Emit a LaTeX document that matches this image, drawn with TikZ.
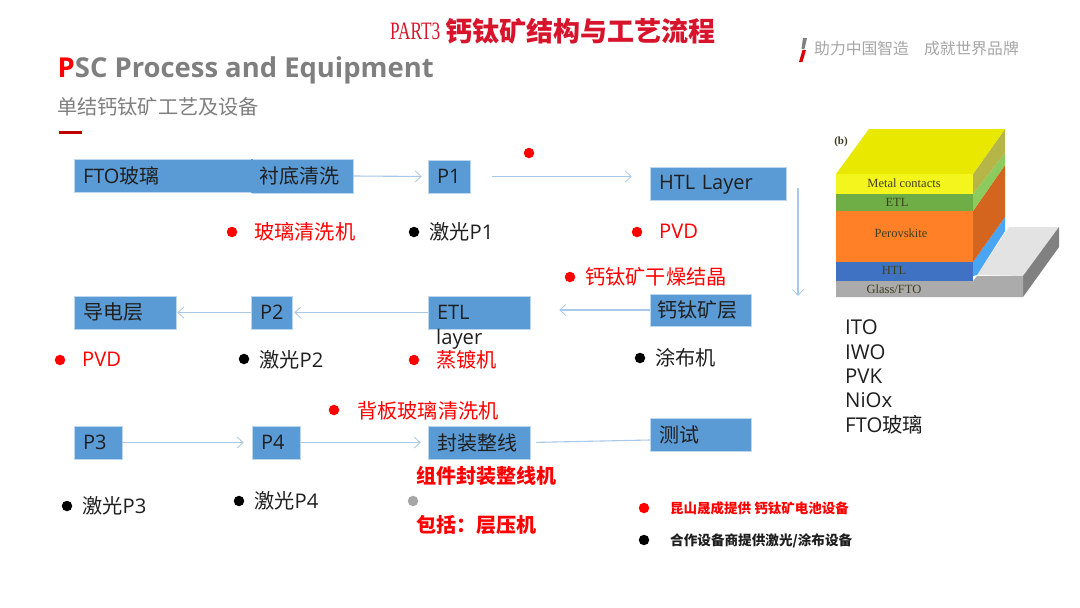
\documentclass[tikz,border=0pt]{standalone}
\usepackage{fontspec}
\usetikzlibrary{arrows.meta}
\setmainfont{Open Sans}
\newfontfamily\cjk{Noto Sans CJK SC}
\newfontfamily\serifx{Liberation Serif}
\newcommand{\C}[1]{{\cjk #1}}
\newcommand{\fs}[1]{\fontsize{#1}{#1}\selectfont}
\definecolor{boxblue}{HTML}{5B9BD5}
\definecolor{boxedge}{HTML}{BDD7EE}
\definecolor{flow}{HTML}{A9C9E8}
\definecolor{ink}{HTML}{1F1F1F}
\definecolor{redx}{HTML}{FF0000}
\definecolor{titlered}{HTML}{D8142C}
\definecolor{greyt}{HTML}{7F7F7F}
\definecolor{greyh}{HTML}{A6A6A6}
\definecolor{cPlateTop}{HTML}{E3E3E3}
\definecolor{cPlateSide}{HTML}{808080}
\definecolor{cPlateFront}{HTML}{ABABAB}
\definecolor{cBlueSide}{HTML}{4BA5F5}
\definecolor{cOrangeSide}{HTML}{D3651F}
\definecolor{cGreenSide}{HTML}{8CCB5E}
\definecolor{cYellowSide}{HTML}{B6B648}
\definecolor{cYellowTop}{HTML}{E8E800}
\definecolor{cYellow}{HTML}{F5F51E}
\definecolor{cGreen}{HTML}{6FAD47}
\definecolor{cOrange}{HTML}{FF8026}
\definecolor{cBlue}{HTML}{4072C4}
\definecolor{cText}{HTML}{3F3F20}
\tikzset{
  x=1pt,y=-1pt,
  box/.style n args={2}{fill=boxblue,draw=boxedge,line width=.5pt,text=ink,font=\fs{20},
    text width=#1pt,minimum height=#2pt,inner xsep=9pt,inner ysep=0pt,align=left},
  flowline/.style={draw=flow,line width=1.1pt,-{Straight Barb[length=6pt,width=11pt,line width=.8pt]}},
  plainline/.style={draw=flow,line width=1.1pt},
  dotr/.style={circle,fill=redx,minimum size=10.5pt,inner sep=0pt},
  dotk/.style={circle,fill=black,minimum size=10.5pt,inner sep=0pt},
  dotg/.style={circle,fill=greyh,minimum size=10.5pt,inner sep=0pt},
  lblr/.style={anchor=west,inner sep=0pt,text=redx,font=\fs{20.2}},
  lblk/.style={anchor=west,inner sep=0pt,text=ink,font=\fs{20.2}},
  lblb/.style={anchor=west,inner sep=0pt,text=redx,font=\cjk\bfseries\fs{20}},
  cubet/.style={inner sep=0pt,font=\serifx\fs{12.5},text=cText}
}
\begin{document}
\begin{tikzpicture}
\useasboundingbox (0,0) rectangle (1080,608);
\fill[white] (0,0) rectangle (1080,608);

% header
\node[anchor=west,inner sep=0pt,text=titlered,font=\serifx\fs{25}] (part) at (390,31) {\scalebox{.69}[1]{PART3}};
\node[anchor=west,inner sep=0pt,text=titlered,font=\cjk\bfseries\fs{27}] (title) at (445.5,31) {钙钛矿结构与工艺流程};
\fill[greyt] (803,38) -- (807,38) -- (804.5,49) -- (801.5,49) -- cycle;
\fill[redx!85!black] (802.5,50) -- (806,50) -- (802.5,62) -- (799,62) -- cycle;
\node[anchor=west,inner sep=0pt,text=greyh,font=\cjk\fs{15.8}] (slogan) at (814,48.5) {助力中国智造\hspace{15pt}成就世界品牌};
\node[anchor=west,inner sep=0pt,text=greyt,font=\bfseries\fs{27.4}] (eng) at (57.5,70) {\textcolor{redx}{P}SC Process and Equipment};
\node[anchor=west,inner sep=0pt,text=greyt,font=\cjk\fs{20.2}] (sub) at (57,107) {单结钙钛矿工艺及设备};
\fill[black!25!red] (59,131) rectangle (82,134);

% row 1
\node[box={160}{33}] (fto) at (163,176) {FTO\C{玻璃}};
\node[box={83}{34},inner xsep=7pt,text width=87pt] (clean) at (302.5,176) {\C{衬底清洗}};
\fill[boxblue] ([xshift=-1pt,yshift=-.2pt]fto.north east) rectangle ([xshift=1pt,yshift=.2pt]fto.south east);
\node[box={24}{33}] (p1) at (449,176.5) {P1};
\node[box={118}{33}] (htl) at (718,183.5) {\raisebox{-2pt}[12pt][4pt]{HTL Layer}};
% row 2
\node[box={83}{32},inner xsep=7pt,text width=87pt] (pvk) at (700.5,310) {\C{钙钛矿层}};
\node[box={84}{33}] (etl) at (479,312.5) {ETL};
\node[lblk] (layer) at (436,339) {layer};
\node[box={23}{33}] (p2) at (271.5,312.5) {P2};
\node[box={84}{33}] (cond) at (125,312.5) {\C{导电层}};
% row 3
\node[box={30}{33}] (p3) at (98,442.5) {P3};
\node[box={30}{33}] (p4) at (276,442.5) {P4};
\node[box={84}{33}] (pack) at (479,442.5) {\C{封装整线}};
\node[box={83}{33}] (test) at (700.5,434.5) {\C{测试}};

% connectors
\coordinate (downtop) at (798,188);
\coordinate (downbot) at (798,296);
\coordinate (testin) at (650,440);
\draw[flowline,shorten >=6pt] (clean.east) -- (p1.west);
\draw[flowline,shorten <=22pt,shorten >=18pt] (p1.east) -- (p1.east -| htl.west);
\draw[flowline] (downtop) -- (downbot);
\draw[flowline,shorten >=29pt] (pvk.west) -- (pvk.west -| etl.east);
\draw[flowline,shorten >=2pt] (etl.west) -- (p2.east);
\draw[flowline,shorten >=1pt] (p2.west) -- (cond.east);
\draw[flowline,shorten >=8pt] (p3.east) -- (p4.west);
\draw[flowline,shorten >=7pt] (p4.east) -- (pack.west);
\draw[plainline,shorten <=6pt] (pack.east) -- (testin);

% dots and equipment labels
\node[dotr] (d0) at (529,153) {};
\node[dotr] (d1) at (232,232) {};
\node[lblr] (l1) at (254,232) {\C{玻璃清洗机}};
\node[dotk] (d2) at (414,232) {};
\node[lblk] (l2) at (429,232) {\C{激光}P1};
\node[dotr] (d3) at (637,232) {};
\node[lblr] (l3) at (659,231) {PVD};
\node[dotr] (d4) at (570,277) {};
\node[lblr] (l4) at (585,277) {\C{钙钛矿干燥结晶}};
\node[dotr] (d5) at (60,360) {};
\node[lblr] (l5) at (82,359) {PVD};
\node[dotk] (d6) at (244,359) {};
\node[lblk] (l6) at (259,360) {\C{激光}P2};
\node[dotr] (d7) at (414,360) {};
\node[lblr] (l7) at (436,360) {\C{蒸镀机}};
\node[dotk] (d8) at (640,358) {};
\node[lblk] (l8) at (655,358) {\C{涂布机}};
\node[dotr] (d9) at (334,410) {};
\node[lblr] (l9) at (357,411) {\C{背板玻璃清洗机}};
\node[lblb] (l10) at (416,476) {组件封装整线机};
\node[dotg] (d11) at (413,501) {};
\node[lblb] (l11) at (416,525) {包括：层压机};
\node[dotk] (d12) at (67,506) {};
\node[lblk] (l12) at (82,506) {\C{激光}P3};
\node[dotk] (d13) at (239,501) {};
\node[lblk] (l13) at (254,501) {\C{激光}P4};
\node[dotr] (d14) at (644,508) {};
\node[anchor=west,inner sep=0pt,text=redx,font=\cjk\bfseries\fs{13.5}] (l14) at (670,508.5) {昆山晟成提供 钙钛矿电池设备};
\node[dotk] (d15) at (644,540) {};
\node[anchor=west,inner sep=0pt,text=ink,font=\cjk\bfseries\fs{13.6}] (l15) at (670,541) {合作设备商提供激光/涂布设备};

% layer list
\node[anchor=north west,inner sep=0pt,align=left,text=ink,font=\fontsize{20.4}{24.3}\selectfont] (list) at (845,320)
 {ITO\\IWO\\PVK\\NiOx\\FTO\C{玻璃}};

% solar cell stack
\fill[cPlateTop] (977,275) -- (1009,227) -- (1059,227) -- (1023,276) -- cycle;
\fill[cPlateSide] (1023,276) -- (1059,227) -- (1059,247) -- (1023,297) -- cycle;
\fill[cPlateFront] (836,281) -- (973,281) -- (977,276) -- (1023,276) -- (1023,297) -- (836,297) -- cycle;
\fill[cBlueSide] (973,262) -- (1005,217) -- (1005,231) -- (977,275) -- (973,276) -- cycle;
\fill[cOrangeSide] (973,211) -- (1005,165) -- (1005,217) -- (973,262) -- cycle;
\fill[cGreenSide] (973,194) -- (1005,153) -- (1005,165) -- (973,211) -- cycle;
\fill[cYellowSide] (973,174) -- (1005,129) -- (1005,153) -- (973,194) -- cycle;
\fill[cYellowTop] (836,174) -- (869,129) -- (1005,129) -- (973,174) -- cycle;
\fill[cYellow] (836,174) rectangle (973,194);
\fill[cGreen] (836,194) rectangle (973,211);
\fill[cOrange] (836,211) rectangle (973,262);
\fill[cBlue] (836,262) rectangle (973,281);
\node[cubet] (mc) at (904,183) {Metal contacts};
\node[cubet] (ce) at (897,202) {ETL};
\node[cubet] (cp) at (901,233) {Perovskite};
\node[cubet] (ch) at (894,270) {HTL};
\node[cubet] (cg) at (894,289) {Glass/FTO};
\node[inner sep=0pt,font=\serifx\bfseries\fs{11},text=cText] (cb) at (841,142) {(b)};
\end{tikzpicture}
\end{document}
